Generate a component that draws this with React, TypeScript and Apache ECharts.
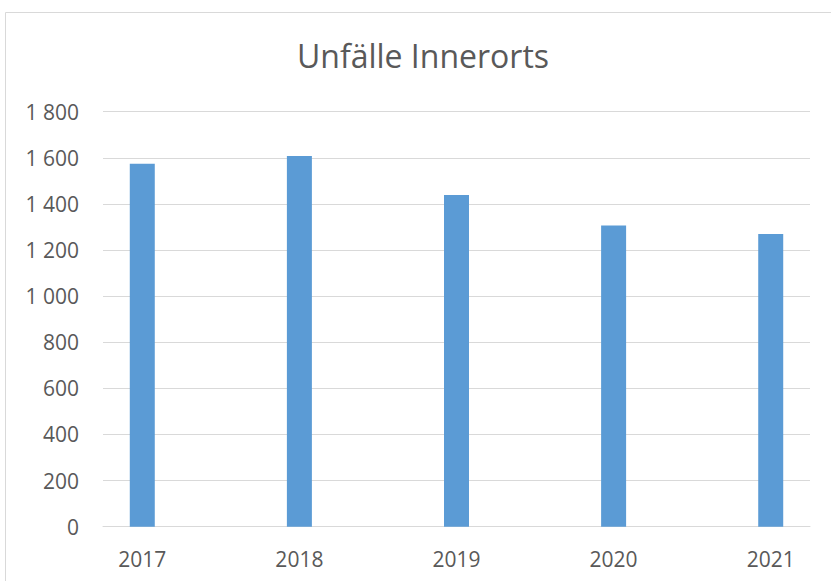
import React, { useEffect, useRef } from "react";
import * as echarts from "echarts";

const categories = ["2017", "2018", "2019", "2020", "2021"];
const values = [1574, 1608, 1439, 1306, 1270];
const yTicks = [0, 200, 400, 600, 800, 1000, 1200, 1400, 1600, 1800];
const titleText = "Unfälle Innerorts";

const FONT = "'Open Sans', 'Liberation Sans', sans-serif";

export default function App() {
  const ref = useRef<HTMLDivElement>(null);
  useEffect(() => {
    if (!ref.current) return;
    const chart = echarts.init(ref.current, null, { renderer: "svg" });
    const years = categories.map((c) => Number(c));
    chart.setOption({
      animation: false,
      backgroundColor: "#ffffff",
      title: {
        text: titleText,
        left: 418,
        top: 34,
        textAlign: "center",
        textStyle: { fontFamily: FONT, fontSize: 32, fontWeight: "normal", color: "#595959" },
      },
      graphic: [
        {
          type: "rect",
          shape: { x: 5.5, y: 12.5, width: 1000, height: 1000 },
          style: { fill: "none", stroke: "#D9D9D9", lineWidth: 1 },
          silent: true,
        },
      ],
      grid: { left: 103, right: 21, top: 111.7, bottom: 54.3, containLabel: false },
      xAxis: {
        type: "value",
        min: 2016.75,
        max: 2021.25,
        interval: 0.25,
        axisLine: { show: true, onZero: false, lineStyle: { color: "#D9D9D9", width: 1 } },
        axisTick: { show: false },
        splitLine: { show: false },
        axisLabel: {
          margin: 22,
          fontFamily: FONT,
          fontSize: 21,
          color: "#595959",
          showMinLabel: true,
          showMaxLabel: true,
          formatter: (v: number) => {
            const r = Math.round(v);
            return Math.abs(v - r) < 1e-6 && categories.includes(String(r)) ? String(r) : "";
          },
        },
      },
      yAxis: {
        type: "value",
        min: yTicks[0],
        max: yTicks[yTicks.length - 1],
        interval: 200,
        axisLine: { show: false },
        axisTick: { show: false },
        splitLine: { show: true, lineStyle: { color: "#D9D9D9", width: 1 } },
        axisLabel: {
          margin: 24,
          fontFamily: FONT,
          fontSize: 21,
          color: "#595959",
          formatter: (v: number) => String(v).replace(/\B(?=(\d{3})+(?!\d))/g, " "),
        },
      },
      series: [
        {
          type: "bar",
          barWidth: 25,
          itemStyle: { color: "#5B9BD5" },
          data: years.map((y, i) => [y, values[i]]),
        },
      ],
    });
    return () => chart.dispose();
  }, []);
  return (
    <div
      ref={ref}
      style={{ position: "fixed", left: 0, top: 0, width: 831, height: 581, background: "#fff" }}
    />
  );
}
